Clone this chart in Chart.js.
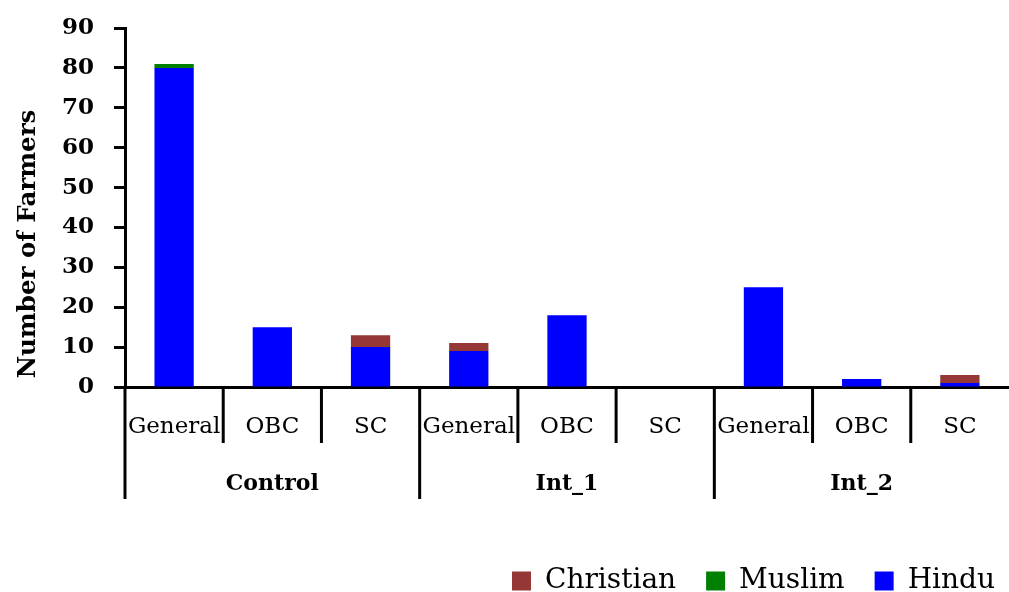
<!DOCTYPE html>
<html>
<head>
<meta charset="utf-8">
<script src="https://cdn.jsdelivr.net/npm/chart.js@4/dist/chart.umd.min.js"></script>
<style>
html,body{margin:0;padding:0;background:#fff;}
#wrap{width:1009px;height:592px;position:relative;}
</style>
</head>
<body>
<div id="wrap"><canvas id="c" width="1009" height="592"></canvas></div>
<script>
const categories = ['General','OBC','SC','General','OBC','SC','General','OBC','SC'];
const groups = ['Control','Int_1','Int_2'];
const hindu = [80,15,10,9,18,0,25,2,1];
const muslim = [1,0,0,0,0,0,0,0,0];
const christian = [0,0,3,2,0,0,0,0,2];
const yMin = 0, yMax = 90, yStep = 10;
const yTitle = 'Number of Farmers';

const SERIF = '"DejaVu Serif", serif';

const separators = {
  id: 'separators',
  afterLayout(chart) {
    if (chart.legend) { chart.legend.left += 16; chart.legend.right += 16; }
  },
  afterDraw(chart) {
    const xs = chart.scales.x;
    const ctx = chart.ctx;
    const n = categories.length;
    const half = (xs.getPixelForValue(1) - xs.getPixelForValue(0)) / 2;
    const y0 = chart.chartArea.bottom;
    ctx.save();
    ctx.strokeStyle = '#000';
    ctx.lineWidth = 3;
    for (let i = 0; i < n; i++) {
      const bx = xs.getPixelForValue(i) - half;
      const len = (i % 3 === 0) ? 112 : 56;
      ctx.beginPath();
      ctx.moveTo(bx, y0);
      ctx.lineTo(bx, y0 + len);
      ctx.stroke();
    }
    // y-axis title
    ctx.translate(29, 244);
    ctx.rotate(-Math.PI / 2);
    ctx.fillStyle = '#000';
    ctx.font = 'bold 24.5px ' + SERIF;
    ctx.textAlign = 'center';
    ctx.textBaseline = 'middle';
    ctx.fillText(yTitle, 0, 0);
    ctx.restore();
  }
};

new Chart(document.getElementById('c'), {
  type: 'bar',
  data: {
    labels: categories,
    datasets: [
      {label: 'Hindu', data: hindu, backgroundColor: '#0000FF'},
      {label: 'Muslim', data: muslim, backgroundColor: '#008000'},
      {label: 'Christian', data: christian, backgroundColor: '#953735'}
    ]
  },
  options: {
    responsive: false,
    animation: false,
    devicePixelRatio: 1,
    layout: {padding: {left: 0, right: 0, top: 0, bottom: -13}},
    datasets: {bar: {categoryPercentage: 1, barPercentage: 0.4}},
    plugins: {
      legend: {
        position: 'bottom', align: 'end', reverse: true,
        labels: {boxWidth: 19, boxHeight: 19, padding: 30, color: '#000',
                 font: {family: SERIF, size: 28}}
      },
      tooltip: {enabled: false}
    },
    scales: {
      x: {
        stacked: true,
        offset: true,
        grid: {display: false},
        border: {display: true, color: '#000', width: 3},
        ticks: {autoSkip: false, maxRotation: 0, color: '#000', padding: 18,
                font: {family: SERIF, size: 23}},
        afterFit(s) { s.height = 56; }
      },
      x2: {
        type: 'category',
        labels: groups,
        position: 'bottom',
        weight: 1,
        offset: true,
        grid: {display: false},
        border: {display: false},
        ticks: {autoSkip: false, maxRotation: 0, color: '#000', padding: 20,
                font: {family: SERIF, size: 22, weight: 'bold'}},
        afterFit(s) { s.height = 94; }
      },
      y: {
        stacked: true,
        min: yMin, max: yMax,
        ticks: {stepSize: yStep, color: '#000', padding: 20,
                font: {family: SERIF, size: 23, weight: 'bold'}},
        grid: {drawOnChartArea: false, drawTicks: true, tickLength: 11, tickWidth: 3, color: '#000'},
        border: {display: true, color: '#000', width: 3},
        title: {display: false},
        afterFit(s) { s.width = 125; s.paddingTop = 28; }
      }
    }
  },
  plugins: [separators]
});
</script>
</body>
</html>
